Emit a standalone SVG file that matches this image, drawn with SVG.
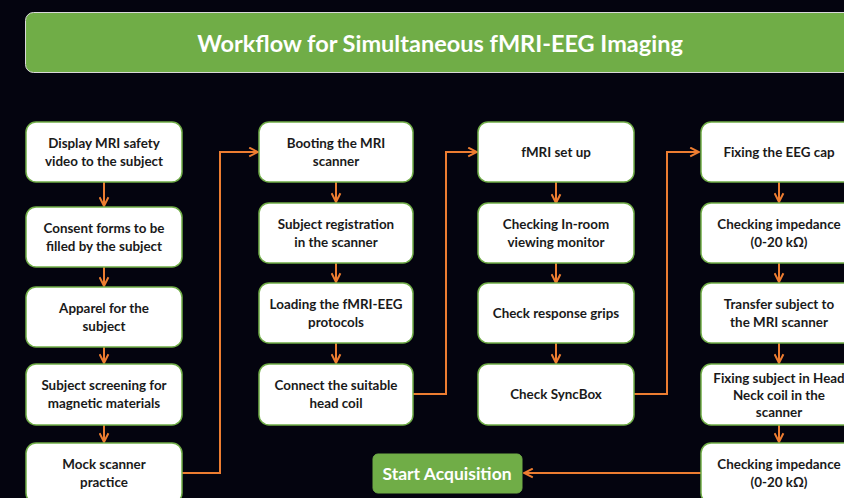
<svg xmlns="http://www.w3.org/2000/svg" width="844" height="498" viewBox="0 0 844 498">
<defs>
<style>
.bg{fill:#04040f}
.node rect{fill:#ffffff;stroke:#70ad47;stroke-width:1.5}
.node text{font-family:Lato,"Liberation Sans",sans-serif;font-weight:bold;font-size:13.4px;fill:#1a1a1a;text-anchor:middle}
.conn{fill:none;stroke:#ed7d31;stroke-width:2;marker-end:url(#ah)}
.title rect{fill:#70ad47;stroke:#d9d9d9;stroke-width:1}
.title text{font-family:Lato,"Liberation Sans",sans-serif;font-weight:bold;font-size:23.5px;fill:#ffffff;text-anchor:middle}
.start rect{fill:#70ad47;stroke:#70ad47}
.start text{font-family:Lato,"Liberation Sans",sans-serif;font-weight:bold;font-size:17.5px;fill:#ffffff;text-anchor:middle}
</style>
<marker id="ah" viewBox="0 0 10 10" refX="9" refY="5" markerWidth="11" markerHeight="11" markerUnits="userSpaceOnUse" orient="auto">
<path d="M1,1 L9,5 L1,9" fill="none" stroke="#ed7d31" stroke-width="1.8"/>
</marker>
</defs>
<rect class="bg" x="0" y="0" width="844" height="498"/>
<g id="title" class="title">
<rect x="25.5" y="12.5" width="840" height="60" rx="8"/>
<text x="440" y="52">Workflow for Simultaneous fMRI-EEG Imaging</text>
</g>
<g id="connectors">
<path class="conn" d="M104,182 V206"/>
<path class="conn" d="M104,267 V286"/>
<path class="conn" d="M104,347 V363"/>
<path class="conn" d="M104,425 V442"/>
<path class="conn" d="M182,473 H220 V152 H258"/>
<path class="conn" d="M336,182 V202"/>
<path class="conn" d="M336,263 V282"/>
<path class="conn" d="M336,343 V363"/>
<path class="conn" d="M413,394 H446 V152 H477"/>
<path class="conn" d="M556,182 V203"/>
<path class="conn" d="M556,263 V283"/>
<path class="conn" d="M556,343 V363"/>
<path class="conn" d="M634,394 H667 V152 H699"/>
<path class="conn" d="M779,182 V202"/>
<path class="conn" d="M779,263 V282"/>
<path class="conn" d="M779,343 V363"/>
<path class="conn" d="M779,425 V442"/>
<path class="conn" d="M701,473 H524"/>
</g>
<g id="n1" class="node"><rect x="26" y="122" width="156" height="60" rx="10"/><text x="104" y="147.5">Display MRI safety</text><text x="104" y="165.5">video to the subject</text></g>
<g id="n2" class="node"><rect x="26" y="207" width="156" height="60" rx="10"/><text x="104" y="232.5">Consent forms to be</text><text x="104" y="250.5">filled by the subject</text></g>
<g id="n3" class="node"><rect x="26" y="287" width="156" height="60" rx="10"/><text x="104" y="312.5">Apparel for the</text><text x="104" y="330.5">subject</text></g>
<g id="n4" class="node"><rect x="26" y="364" width="156" height="61" rx="10"/><text x="104" y="390">Subject screening for</text><text x="104" y="408">magnetic materials</text></g>
<g id="n5" class="node"><rect x="26" y="443" width="156" height="60" rx="10"/><text x="104" y="469">Mock scanner</text><text x="104" y="487">practice</text></g>
<g id="n6" class="node"><rect x="259" y="122" width="154" height="60" rx="10"/><text x="336" y="147.5">Booting the MRI</text><text x="336" y="165.5">scanner</text></g>
<g id="n7" class="node"><rect x="259" y="203" width="154" height="60" rx="10"/><text x="336" y="228.5">Subject registration</text><text x="336" y="246.5">in the scanner</text></g>
<g id="n8" class="node"><rect x="259" y="283" width="154" height="60" rx="10"/><text x="336" y="308.5">Loading the fMRI-EEG</text><text x="336" y="326.5">protocols</text></g>
<g id="n9" class="node"><rect x="259" y="364" width="154" height="61" rx="10"/><text x="336" y="390">Connect the suitable</text><text x="336" y="408">head coil</text></g>
<g id="n10" class="node"><rect x="478" y="122" width="156" height="60" rx="10"/><text x="556" y="156.5">fMRI set up</text></g>
<g id="n11" class="node"><rect x="478" y="203" width="156" height="60" rx="10"/><text x="556" y="228.5">Checking In-room</text><text x="556" y="246.5">viewing monitor</text></g>
<g id="n12" class="node"><rect x="478" y="283" width="156" height="60" rx="10"/><text x="556" y="317.5">Check response grips</text></g>
<g id="n13" class="node"><rect x="478" y="364" width="156" height="61" rx="10"/><text x="556" y="399">Check SyncBox</text></g>
<g id="n14" class="node"><rect x="701" y="122" width="156" height="60" rx="10"/><text x="779" y="156.5">Fixing the EEG cap</text></g>
<g id="n15" class="node"><rect x="701" y="203" width="156" height="60" rx="10"/><text x="779" y="228.5">Checking impedance</text><text x="779" y="246.5">(0-20 kΩ)</text></g>
<g id="n16" class="node"><rect x="701" y="283" width="156" height="60" rx="10"/><text x="779" y="308.5">Transfer subject to</text><text x="779" y="326.5">the MRI scanner</text></g>
<g id="n17" class="node"><rect x="701" y="364" width="156" height="61" rx="10"/><text x="779" y="382.5">Fixing subject in Head</text><text x="779" y="399.5">Neck coil in the</text><text x="779" y="416.5">scanner</text></g>
<g id="n18" class="node"><rect x="701" y="443" width="156" height="60" rx="10"/><text x="779" y="469">Checking impedance</text><text x="779" y="487">(0-20 kΩ)</text></g>
<g id="start" class="start"><rect x="373" y="454" width="149" height="39" rx="5"/><text x="447" y="480">Start Acquisition</text></g>
</svg>
